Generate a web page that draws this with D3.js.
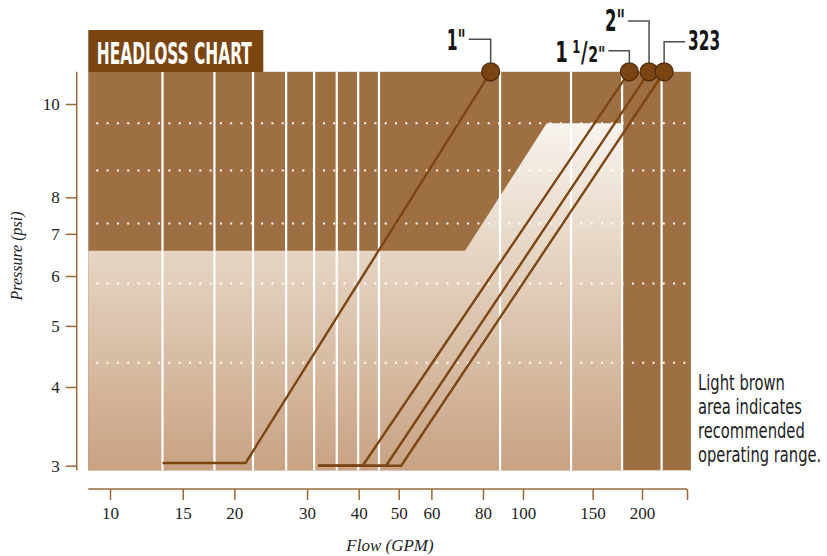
<!DOCTYPE html>
<html>
<head>
<meta charset="utf-8">
<script src="https://cdn.jsdelivr.net/npm/d3@7"></script>
<style>
	body { margin: 0; background: #fff; }
</style>
</head>
<body>
<div id="chart"></div>
<script>
var flowTicks = [10, 15, 20, 30, 40, 50, 60, 80, 100, 150, 200];
var pressureTicks = [3, 4, 5, 6, 7, 8, 10];
var flowExtent = [8.86, 265.9];
var pressureExtent = [2.95, 10.8];
var axisEndFlow = 260;

// white column separators and dotted pressure guides
var gridFlows = [13.4, 17.9, 22.2, 26.7, 31.2, 35.4, 39.9, 44.8, 88, 132.3, 178.1, 224.2];
var dotPressures = [4.37, 5.84, 7.27, 8.53, 9.55];

// recommended operating range outline
var rangeFlows = [8.86, 8.86, 72.4, 114.8, 178.1, 178.1];
var rangePressures = [2.95, 6.58, 6.58, 9.55, 9.55, 2.95];

var pipeNames = ['1"', '1 1/2"', '2"', '323'];
var pipeFlows = [
	[13.4, 21.3, 83.5],
	[31.9, 40.9, 185.8],
	[31.9, 46.6, 208.4],
	[31.9, 50.7, 227.5]
];
var pipePressures = [
	[3.03, 3.03, 10.8],
	[3, 3, 10.8],
	[3, 3, 10.8],
	[3, 3, 10.8]
];

var noteLines = ['Light brown', 'area indicates', 'recommended', 'operating range.'];

var W = 827, H = 556;
var plot = {left: 88.3, right: 690.7, top: 72, bottom: 470};
var narrow = 'Liberation Sans Narrow, DejaVu Sans Condensed, DejaVu Sans, sans-serif';

var svg = d3.select('#chart').append('svg')
	.attr('width', W)
	.attr('height', H)
	.style('font-family', 'Liberation Serif, serif');

// log axes, calibrated at a few printed ticks
var x = d3.scaleLog().domain([10, 100, 200]).range([110, 523, 642]);
var y = d3.scaleLog().domain([3, 8, 10]).range([465.7, 197.3, 104]);

var defs = svg.append('defs');
var grad = defs.append('linearGradient')
	.attr('id', 'lightGrad')
	.attr('gradientUnits', 'userSpaceOnUse')
	.attr('x1', 0).attr('x2', 0)
	.attr('y1', y(9.55)).attr('y2', y(pressureExtent[0]));
grad.append('stop').attr('offset', 0).attr('stop-color', '#f8f3ee');
grad.append('stop').attr('offset', 0.36).attr('stop-color', '#e6d6c5');
grad.append('stop').attr('offset', 1).attr('stop-color', '#c9a283');

// dark background
svg.append('rect')
	.attr('x', x(flowExtent[0]))
	.attr('y', y(pressureExtent[1]))
	.attr('width', x(flowExtent[1]) - x(flowExtent[0]))
	.attr('height', y(pressureExtent[0]) - y(pressureExtent[1]))
	.style('fill', '#9e6f42');

var rangePts = rangeFlows.map(function (f, i) { return [f, rangePressures[i]]; });
svg.append('path')
	.datum(rangePts)
	.attr('d', d3.line()
		.x(function (d) { return x(d[0]); })
		.y(function (d) { return y(d[1]); }))
	.style('fill', 'url(#lightGrad)');

svg.selectAll('dots')
	.data(dotPressures)
	.enter()
	.append('line')
	.attr('x1', x(flowExtent[0]) + 8)
	.attr('x2', x(flowExtent[1]))
	.attr('y1', function (d) { return y(d); })
	.attr('y2', function (d) { return y(d); })
	.style('stroke', '#fff')
	.style('stroke-width', 2)
	.style('stroke-dasharray', '2,8.3');

svg.selectAll('cols')
	.data(gridFlows)
	.enter()
	.append('line')
	.attr('x1', function (d) { return x(d); })
	.attr('x2', function (d) { return x(d); })
	.attr('y1', y(pressureExtent[1]))
	.attr('y2', y(pressureExtent[0]))
	.style('stroke', '#fff')
	.style('stroke-width', 2.2);

// pipe curves
var pipes = pipeNames.map(function (n, i) {
	return {
		name: n,
		pts: pipeFlows[i].map(function (f, j) { return [f, pipePressures[i][j]]; })
	};
});

var line = d3.line()
	.x(function (d) { return x(d[0]); })
	.y(function (d) { return y(d[1]); });

svg.selectAll('pipes')
	.data(pipes)
	.enter()
	.append('path')
	.attr('d', function (d) { return line(d.pts); })
	.style('fill', 'none')
	.style('stroke', '#7b4613')
	.style('stroke-width', 2.4);

// leader elbow, label baseline, label width, label size
var labelLayout = [
	{dx: -22, ly: 39.3, ty: 49.5, w: 19, fs: 28, side: -1},
	{dx: -21, ly: 50.7, ty: 62, w: 50, fs: 28, side: -1},
	{dx: -21, ly: 21, ty: 31, w: 20, fs: 31, side: -1},
	{dx: 21, ly: 41.7, ty: 49.5, w: 32, fs: 27, side: 1}
];

// label pieces: [text, size, raise, gap after]
function labelPieces(name, fs) {
	if (name === '1 1/2"') {
		return [['1', 28, 0, 6], ['1', 18, 9, 1], ['/', 28, 0, 1], ['2"', 22, 0, 0]];
	}
	return [[name, fs, 0, 0]];
}

// set a label at its natural width, then squeeze the group to the wanted width
function label(tx, ty, w, pieces) {
	var g = svg.append('g');
	var cursor = 0;
	pieces.forEach(function (pc) {
		var t = g.append('text')
			.attr('x', cursor)
			.attr('y', -pc[2])
			.style('font-family', narrow)
			.style('font-weight', 'bold')
			.style('font-size', pc[1] + 'px')
			.style('fill', '#151515')
			.text(pc[0]);
		cursor += t.node().getComputedTextLength() + pc[3];
	});
	g.attr('transform', 'translate(' + tx + ',' + ty + ') scale(' + (w / cursor) + ',1)');
}

pipes.forEach(function (p, i) {
	var end = p.pts[p.pts.length - 1];
	var cx = x(end[0]), cy = y(end[1]);
	var L = labelLayout[i];
	svg.append('path')
		.attr('d', 'M' + (cx + L.dx) + ',' + L.ly + 'H' + cx + 'V' + (cy - 9))
		.style('fill', 'none')
		.style('stroke', '#4d4d4d')
		.style('stroke-width', 1.5);
	var tx = L.side < 0 ? cx + L.dx - 3 - L.w : cx + L.dx + 3;
	label(tx, L.ty, L.w, labelPieces(p.name, L.fs));
	svg.append('circle')
		.attr('cx', cx)
		.attr('cy', cy)
		.attr('r', 9)
		.style('fill', '#7b4513')
		.style('stroke', '#4a2808')
		.style('stroke-width', 1.2);
});

// title box
svg.append('rect')
	.attr('x', plot.left)
	.attr('y', 30)
	.attr('width', 175)
	.attr('height', plot.top - 30)
	.style('fill', '#7a4511');
svg.append('text')
	.attr('x', plot.left + 8.5)
	.attr('y', 63.5)
	.attr('textLength', 155)
	.attr('lengthAdjust', 'spacingAndGlyphs')
	.style('font-family', narrow)
	.style('font-weight', 'bold')
	.style('font-size', '30px')
	.style('fill', '#fff')
	.text('HEADLOSS CHART');

// axes
var axisColor = '#9a6838';
var xAxis = svg.append('g')
	.attr('transform', 'translate(0,489)')
	.call(d3.axisBottom(x)
		.tickValues(flowTicks.concat([axisEndFlow]))
		.tickSize(11)
		.tickSizeOuter(0)
		.tickPadding(7)
		.tickFormat(function (d) { return flowTicks.indexOf(d) < 0 ? '' : d; }));
xAxis.select('.domain').remove();
xAxis.append('line')
	.attr('x1', x(flowExtent[0]))
	.attr('x2', x(axisEndFlow))
	.style('stroke', axisColor)
	.style('stroke-width', 1.5);
xAxis.selectAll('.tick line').style('stroke', axisColor).style('stroke-width', 1.5);
xAxis.selectAll('.tick text')
	.style('font-family', 'Liberation Serif, serif')
	.style('font-size', '17px')
	.style('fill', '#222');

var yAxis = svg.append('g')
	.attr('transform', 'translate(76.7,0)')
	.call(d3.axisLeft(y)
		.tickValues(pressureTicks)
		.tickSize(11)
		.tickSizeOuter(0)
		.tickPadding(6)
		.tickFormat(d3.format('d')));
yAxis.select('.domain').remove();
yAxis.append('line')
	.attr('y1', y(pressureExtent[0]))
	.attr('y2', y(pressureExtent[1]))
	.style('stroke', axisColor)
	.style('stroke-width', 1.5);
yAxis.selectAll('.tick line').style('stroke', axisColor).style('stroke-width', 1.5);
yAxis.selectAll('.tick text')
	.style('font-family', 'Liberation Serif, serif')
	.style('font-size', '17px')
	.style('fill', '#222');

svg.append('text')
	.attr('x', 390)
	.attr('y', 551)
	.style('text-anchor', 'middle')
	.style('font-style', 'italic')
	.style('font-size', '17px')
	.style('fill', '#222')
	.text('Flow (GPM)');

svg.append('text')
	.attr('transform', 'translate(22,256) rotate(-90)')
	.style('text-anchor', 'middle')
	.style('font-style', 'italic')
	.style('font-size', '16px')
	.style('fill', '#222')
	.text('Pressure (psi)');

// side note, squeezed to mimic the condensed face
svg.append('g')
	.attr('transform', 'translate(698,0) scale(0.78,1)')
	.selectAll('note')
	.data(noteLines)
	.enter()
	.append('text')
	.attr('x', 0)
	.attr('y', function (d, i) { return 390 + i * 24; })
	.style('font-family', narrow)
	.style('font-size', '21px')
	.style('fill', '#1e1e1e')
	.text(function (d) { return d; });
</script>
</body>
</html>
